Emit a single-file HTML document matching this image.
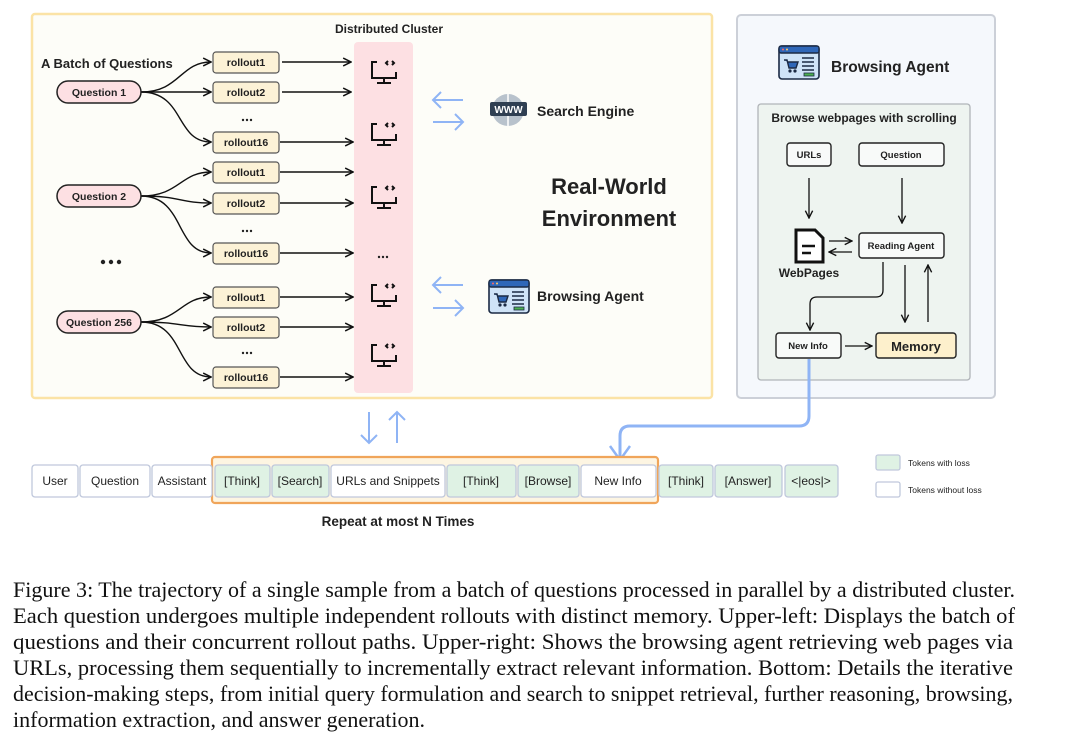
<!DOCTYPE html>
<html><head><meta charset="utf-8"><style>
html,body{margin:0;padding:0;background:#fff;}
svg{display:block;}
.s{font-family:"Liberation Sans",sans-serif;fill:#222;}
.b{font-weight:bold;}
.cap{font-family:"Liberation Serif",serif;font-size:22px;fill:#111;}
</style></head><body>
<svg width="1080" height="737" viewBox="0 0 1080 737" xmlns="http://www.w3.org/2000/svg">
<defs>
<marker id="ah" viewBox="0 0 10 10" refX="9" refY="5" markerWidth="7" markerHeight="7" orient="auto"><path d="M1,1 L9,5 L1,9" fill="none" stroke="#111" stroke-width="1.5"/></marker>
<g id="mon" fill="none" stroke="#111" stroke-width="2"><path d="M-7,-11 H-12 V5 H12 V-1"/><path d="M0,5 V10 M-7,10 H7"/><path d="M4,-12 L2,-10 L4,-8 M8,-12 L10,-10 L8,-8"/></g>
<g id="brw"><rect x="0" y="0" width="40" height="33" rx="3" fill="#cfe3f7" stroke="#1b2a44" stroke-width="1.6"/><rect x="0" y="0" width="40" height="7" rx="2" fill="#2f67b8" stroke="#1b2a44" stroke-width="1.4"/><circle cx="4" cy="3.5" r="1" fill="#f66"/><circle cx="8" cy="3.5" r="1" fill="#fc6"/><path d="M5,14 H8 L10,22 H17 L19,16 H9" fill="#2f67b8" stroke="#1b2a44" stroke-width="1.4"/><circle cx="11" cy="25" r="1.6" fill="#1b2a44"/><circle cx="16" cy="25" r="1.6" fill="#1b2a44"/><path d="M23,12 H35 M23,16 H35 M23,20 H35 M23,24 H35" stroke="#1b2a44" stroke-width="1.4"/><rect x="25" y="27" width="10" height="3" fill="#4caf50" stroke="#1b2a44" stroke-width="0.8"/></g>
</defs>

<rect x="32" y="14" width="680" height="384" fill="#fdfdf8" stroke="#fbe3a6" stroke-width="2.5" rx="3"/>
<text class="s b" x="389" y="33" font-size="12" text-anchor="middle">Distributed Cluster</text>
<rect x="354" y="42" width="59" height="351" rx="4" fill="#fde0e3"/>
<text class="s b" x="41" y="68" font-size="13">A Batch of Questions</text>

<g stroke="#111" stroke-width="1.4" fill="none">
<path d="M141,92 C180,92 180,62 211,62" marker-end="url(#ah)"/>
<path d="M141,92 L211,92" marker-end="url(#ah)"/>
<path d="M141,92 C185,92 175,142 211,142" marker-end="url(#ah)"/>
<path d="M141,196 C180,196 180,172 211,172" marker-end="url(#ah)"/>
<path d="M141,196 C180,196 180,203 211,203" marker-end="url(#ah)"/>
<path d="M141,196 C185,196 175,253 211,253" marker-end="url(#ah)"/>
<path d="M141,322 C180,322 180,297 211,297" marker-end="url(#ah)"/>
<path d="M141,322 C180,322 180,327 211,327" marker-end="url(#ah)"/>
<path d="M141,322 C185,322 175,377 211,377" marker-end="url(#ah)"/>
<path d="M282,62 H351" marker-end="url(#ah)"/>
<path d="M282,92 H351" marker-end="url(#ah)"/>
<path d="M280,142 H353" marker-end="url(#ah)"/>
<path d="M280,172 H353" marker-end="url(#ah)"/>
<path d="M280,203 H353" marker-end="url(#ah)"/>
<path d="M280,253 H353" marker-end="url(#ah)"/>
<path d="M280,297 H353" marker-end="url(#ah)"/>
<path d="M280,327 H353" marker-end="url(#ah)"/>
<path d="M280,377 H353" marker-end="url(#ah)"/>
</g>
<g stroke="#222" stroke-width="1.5" fill="#fde0e3">
<rect x="57" y="81" width="84" height="22" rx="11"/>
<rect x="57" y="185" width="84" height="22" rx="11"/>
<rect x="57" y="311" width="84" height="22" rx="11"/>
</g>
<g class="s b" font-size="10.5" text-anchor="middle">
<text x="99" y="96">Question 1</text><text x="99" y="200">Question 2</text><text x="99" y="326">Question 256</text>
</g>
<g stroke="#555" stroke-width="1.2" fill="#fcf2d6">
<rect x="213" y="52" width="66" height="21" rx="3"/><rect x="213" y="82" width="66" height="21" rx="3"/><rect x="213" y="132" width="66" height="21" rx="3"/>
<rect x="213" y="162" width="66" height="21" rx="3"/><rect x="213" y="193" width="66" height="21" rx="3"/><rect x="213" y="243" width="66" height="21" rx="3"/>
<rect x="213" y="287" width="66" height="21" rx="3"/><rect x="213" y="317" width="66" height="21" rx="3"/><rect x="213" y="367" width="66" height="21" rx="3"/>
</g>
<g class="s b" font-size="10.5" text-anchor="middle">
<text x="246" y="66">rollout1</text><text x="246" y="96">rollout2</text><text x="246" y="146">rollout16</text>
<text x="246" y="176">rollout1</text><text x="246" y="207">rollout2</text><text x="246" y="257">rollout16</text>
<text x="246" y="301">rollout1</text><text x="246" y="331">rollout2</text><text x="246" y="381">rollout16</text>
</g>
<g fill="#222">
<circle cx="243" cy="120" r="1.2"/><circle cx="247" cy="120" r="1.2"/><circle cx="251" cy="120" r="1.2"/>
<circle cx="243" cy="231" r="1.2"/><circle cx="247" cy="231" r="1.2"/><circle cx="251" cy="231" r="1.2"/>
<circle cx="243" cy="353" r="1.2"/><circle cx="247" cy="353" r="1.2"/><circle cx="251" cy="353" r="1.2"/>
<circle cx="379" cy="257" r="1.2"/><circle cx="383" cy="257" r="1.2"/><circle cx="387" cy="257" r="1.2"/>
<circle cx="103" cy="262" r="2.2"/><circle cx="111" cy="262" r="2.2"/><circle cx="119" cy="262" r="2.2"/>
</g>
<use href="#mon" x="384" y="73"/><use href="#mon" x="384" y="135"/><use href="#mon" x="384" y="198"/><use href="#mon" x="384" y="296"/><use href="#mon" x="384" y="356"/>

<g stroke="#8fb4f5" stroke-width="2" fill="none">
<path d="M463,100 H433 M441,92 L433,100 L441,108"/><path d="M433,122 H463 M455,114 L463,122 L455,130"/>
<path d="M463,285 H433 M441,277 L433,285 L441,293"/><path d="M433,308 H463 M455,300 L463,308 L455,316"/>
</g>
<circle cx="508" cy="110" r="16" fill="#b8c2cc"/>
<path d="M492,110 H524 M508,94 V126" stroke="#fff" stroke-width="1.5"/>
<rect x="490" y="102" width="37" height="14" rx="2" fill="#2f3f52"/>
<text x="508.5" y="113" font-family="Liberation Sans" font-weight="bold" font-size="10" fill="#fff" text-anchor="middle">WWW</text>
<text class="s b" x="537" y="116" font-size="14">Search Engine</text>
<use href="#brw" x="489" y="280"/>
<text class="s b" x="537" y="301" font-size="14">Browsing Agent</text>
<text class="s b" x="609" y="194" font-size="22" text-anchor="middle">Real-World</text>
<text class="s b" x="609" y="226" font-size="22" text-anchor="middle">Environment</text>

<rect x="737" y="15" width="258" height="383" rx="4" fill="#f5f8fc" stroke="#ccd0d8" stroke-width="2"/>
<use href="#brw" x="779" y="46"/>
<text class="s b" x="831" y="72" font-size="15.5">Browsing Agent</text>
<rect x="758" y="104" width="212" height="276" rx="3" fill="#eef4f0" stroke="#b0b4b8" stroke-width="1.3"/>
<text class="s b" x="864" y="122" font-size="12" text-anchor="middle">Browse webpages with scrolling</text>
<g stroke="#222" stroke-width="1.4" fill="#f8faf9">
<rect x="787" y="143" width="44" height="23" rx="3"/><rect x="859" y="143" width="85" height="23" rx="3"/>
<rect x="859" y="233" width="85" height="25" rx="3"/><rect x="776" y="333" width="65" height="25" rx="3"/>
<rect x="876" y="333" width="80" height="25" rx="3" fill="#fdf0cc"/>
</g>
<g class="s b" font-size="9.5" text-anchor="middle">
<text x="809" y="158">URLs</text><text x="901" y="158">Question</text><text x="901" y="249">Reading Agent</text><text x="808" y="349">New Info</text>
<text x="916" y="351" font-size="13">Memory</text><text x="809" y="277" font-size="12">WebPages</text>
</g>
<path d="M796,230 H815 L823,238 V262 H796 Z" fill="#fff" stroke="#111" stroke-width="3"/>
<path d="M802,246 H815 M802,253 H811" stroke="#111" stroke-width="2.5"/>
<g stroke="#111" stroke-width="1.3" fill="none">
<path d="M809,178 V218" marker-end="url(#ah)"/><path d="M902,178 V223" marker-end="url(#ah)"/>
<path d="M829,241 H852" marker-end="url(#ah)"/><path d="M852,252 H829" marker-end="url(#ah)"/>
<path d="M883,262 V290 Q883,297 876,297 H817 Q810,297 810,304 V330" marker-end="url(#ah)"/>
<path d="M905,265 V322" marker-end="url(#ah)"/><path d="M928,322 V265" marker-end="url(#ah)"/>
<path d="M845,346 H872" marker-end="url(#ah)"/>
</g>
<path d="M809,359 V416 Q809,426 799,426 H630 Q620,426 620,436 V458" stroke="#8fb4f5" stroke-width="3" fill="none"/>
<path d="M610,446 L620,460 L630,446" stroke="#8fb4f5" stroke-width="2.5" fill="none"/>
<g stroke="#8fb4f5" stroke-width="2" fill="none">
<path d="M369,412 V443 M361,435 L369,443 L377,435"/><path d="M397,443 V412 M389,420 L397,412 L405,420"/>
</g>

<rect x="212" y="457" width="446" height="46" rx="3" fill="#fdf5e2" stroke="#f0a55a" stroke-width="2.2"/>
<g stroke="#c0c8dc" stroke-width="1.3">
<rect x="32" y="465" width="46" height="32" rx="3" fill="#fff"/>
<rect x="80" y="465" width="70" height="32" rx="3" fill="#fff"/>
<rect x="152" y="465" width="60" height="32" rx="3" fill="#fff"/>
<rect x="215" y="465" width="55" height="32" rx="3" fill="#dff2e4"/>
<rect x="272" y="465" width="57" height="32" rx="3" fill="#dff2e4"/>
<rect x="331" y="465" width="114" height="32" rx="3" fill="#fff"/>
<rect x="447" y="465" width="69" height="32" rx="3" fill="#dff2e4"/>
<rect x="518" y="465" width="61" height="32" rx="3" fill="#dff2e4"/>
<rect x="581" y="465" width="75" height="32" rx="3" fill="#fff"/>
<rect x="659" y="465" width="54" height="32" rx="3" fill="#dff2e4"/>
<rect x="715" y="465" width="67" height="32" rx="3" fill="#dff2e4"/>
<rect x="785" y="465" width="53" height="32" rx="3" fill="#dff2e4"/>
<rect x="876" y="455" width="24" height="15" rx="2" fill="#dff2e4"/>
<rect x="876" y="482" width="24" height="15" rx="2" fill="#fff"/>
</g>
<g class="s" font-size="12" text-anchor="middle">
<text x="55" y="485">User</text><text x="115" y="485">Question</text><text x="182" y="485">Assistant</text>
<text x="242" y="485">[Think]</text><text x="300" y="485">[Search]</text><text x="388" y="485">URLs and Snippets</text>
<text x="481" y="485">[Think]</text><text x="548" y="485">[Browse]</text><text x="618" y="485">New Info</text>
<text x="686" y="485">[Think]</text><text x="748" y="485">[Answer]</text><text x="811" y="485">&lt;|eos|&gt;</text>
</g>
<text class="s b" x="398" y="526" font-size="13.5" text-anchor="middle">Repeat at most N Times</text>
<text class="s" x="908" y="466" font-size="8.5">Tokens with loss</text>
<text class="s" x="908" y="493" font-size="8.5">Tokens without loss</text>

<text class="cap" x="13" y="597" textLength="1002" lengthAdjust="spacingAndGlyphs">Figure 3: The trajectory of a single sample from a batch of questions processed in parallel by a distributed cluster.</text>
<text class="cap" x="13" y="623" textLength="1002" lengthAdjust="spacingAndGlyphs">Each question undergoes multiple independent rollouts with distinct memory. Upper-left: Displays the batch of</text>
<text class="cap" x="13" y="649" textLength="1000" lengthAdjust="spacingAndGlyphs">questions and their concurrent rollout paths.  Upper-right:  Shows the browsing agent retrieving web pages via</text>
<text class="cap" x="13" y="675" textLength="1000" lengthAdjust="spacingAndGlyphs">URLs, processing them sequentially to incrementally extract relevant information. Bottom: Details the iterative</text>
<text class="cap" x="13" y="701" textLength="1000" lengthAdjust="spacingAndGlyphs">decision-making steps, from initial query formulation and search to snippet retrieval, further reasoning, browsing,</text>
<text class="cap" x="13" y="727" textLength="412" lengthAdjust="spacingAndGlyphs">information extraction, and answer generation.</text>
</svg>
</body></html>
